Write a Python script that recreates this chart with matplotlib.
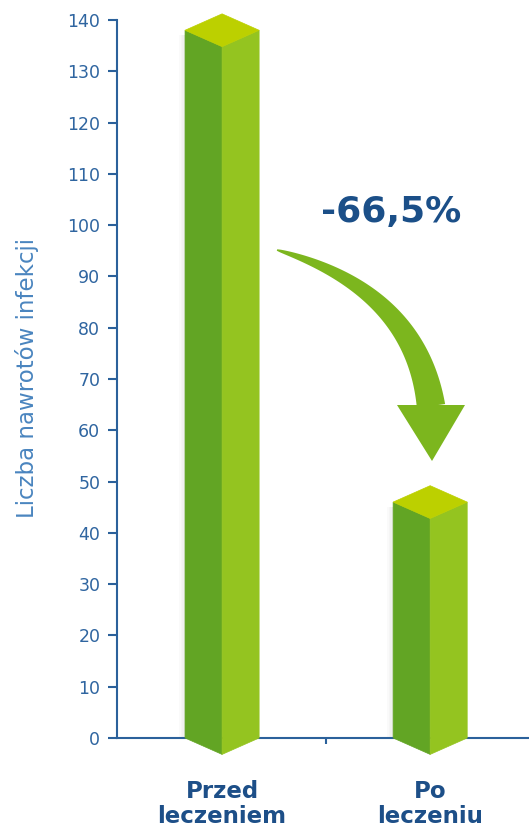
import numpy as np
import matplotlib.pyplot as plt
from matplotlib.patches import Polygon

# data
categories = ["Przed\nleczeniem", "Po\nleczeniu"]
values = [138, 46]
change_label = "-66,5%"
yticks = list(range(0, 141, 10))

W, H = 529, 827
axis_blue = "#2b619b"
left_green = "#62a524"
right_green = "#94c420"
top_green = "#bcd000"
arrow_green = "#7cb61e"

fig = plt.figure(figsize=(W / 100, H / 100), dpi=100)
ax = fig.add_axes([117 / W, 1 - 738 / H, 1 - 117 / W, (738 - 20) / H])
ax.set_xlim(-0.505, 1.475)
ax.set_ylim(0, 140)

half_w = 0.178   # half bar width, data units
depth = 3.2      # vertical drop of the front edge

for x, v in enumerate(values):
    # soft shadow on the left side of the prism
    for k, a in enumerate([0.12, 0.08, 0.05, 0.025]):
        x0 = x - half_w - (k + 1) * 0.007
        ax.add_patch(Polygon([(x0, 0), (x0 + 0.007, 0), (x0 + 0.007, v - 1), (x0, v - 1)],
                             closed=True, facecolor="0.3", edgecolor="none",
                             alpha=a, zorder=2, clip_on=False))
    left = [(x - half_w, 0), (x, -depth), (x, v - depth), (x - half_w, v)]
    right = [(x, -depth), (x + half_w, 0), (x + half_w, v), (x, v - depth)]
    top = [(x - half_w, v), (x, v + depth), (x + half_w, v), (x, v - depth)]
    for pts, col in [(left, left_green), (right, right_green), (top, top_green)]:
        ax.add_patch(Polygon(pts, closed=True, facecolor=col, edgecolor=col,
                             linewidth=0.5, zorder=3, clip_on=False))

# axes styling
for s in ["top", "right"]:
    ax.spines[s].set_visible(False)
for s in ["left", "bottom"]:
    ax.spines[s].set_color(axis_blue)
    ax.spines[s].set_linewidth(1.5)

ax.set_yticks(yticks)
ax.tick_params(axis="y", direction="out", length=6.5, width=1.5, color=axis_blue,
               labelsize=12.5, labelcolor="#2f65a0", pad=5.5)
ax.set_xticks([0, 1])
ax.set_xticklabels(categories, fontsize=16.5, fontweight="bold", color="#1d4f88",
                   linespacing=1.15)
ax.tick_params(axis="x", which="major", length=0, pad=30)
ax.set_xticks([0.5], minor=True)
ax.tick_params(axis="x", which="minor", direction="out", length=4, width=1.5, color=axis_blue)

ax.set_ylabel("Liczba nawrotów infekcji", fontsize=16.5, color="#4a85bf")
ax.yaxis.set_label_coords((39 - 117) / (W - 117), (738 - 378) / (738 - 20))

# curved arrow between the bars (image pixel coords -> figure fraction)
def to_fig(px, py):
    return np.column_stack([np.asarray(px) / W, 1 - np.asarray(py) / H])

p0 = np.array([277.0, 250.0])
p1 = np.array([415.0, 290.0])
p2 = np.array([431.0, 406.0])
t = np.linspace(0, 1, 80)[:, None]
curve = (1 - t) ** 2 * p0 + 2 * (1 - t) * t * p1 + t ** 2 * p2
tang = 2 * (1 - t) * (p1 - p0) + 2 * t * (p2 - p1)
tang /= np.linalg.norm(tang, axis=1)[:, None]
normal = np.column_stack([-tang[:, 1], tang[:, 0]])
width = 1.5 + 27 * t[:, 0] ** 0.7
edge_a = curve + normal * width[:, None] / 2
edge_b = curve - normal * width[:, None] / 2
shaft = np.vstack([edge_a, edge_b[::-1]])
fig.add_artist(Polygon(to_fig(shaft[:, 0], shaft[:, 1]), closed=True,
                       facecolor=arrow_green, edgecolor="none", transform=fig.transFigure))
head = to_fig([397, 465, 432], [405, 405, 461])
fig.add_artist(Polygon(head, closed=True, facecolor=arrow_green, edgecolor="none",
                       transform=fig.transFigure))

fig.text(391 / W, 1 - 212 / H, change_label, ha="center", va="center",
         fontsize=26, fontweight="bold", color="#1b4f88")

fig.savefig("out.png", dpi=100)
